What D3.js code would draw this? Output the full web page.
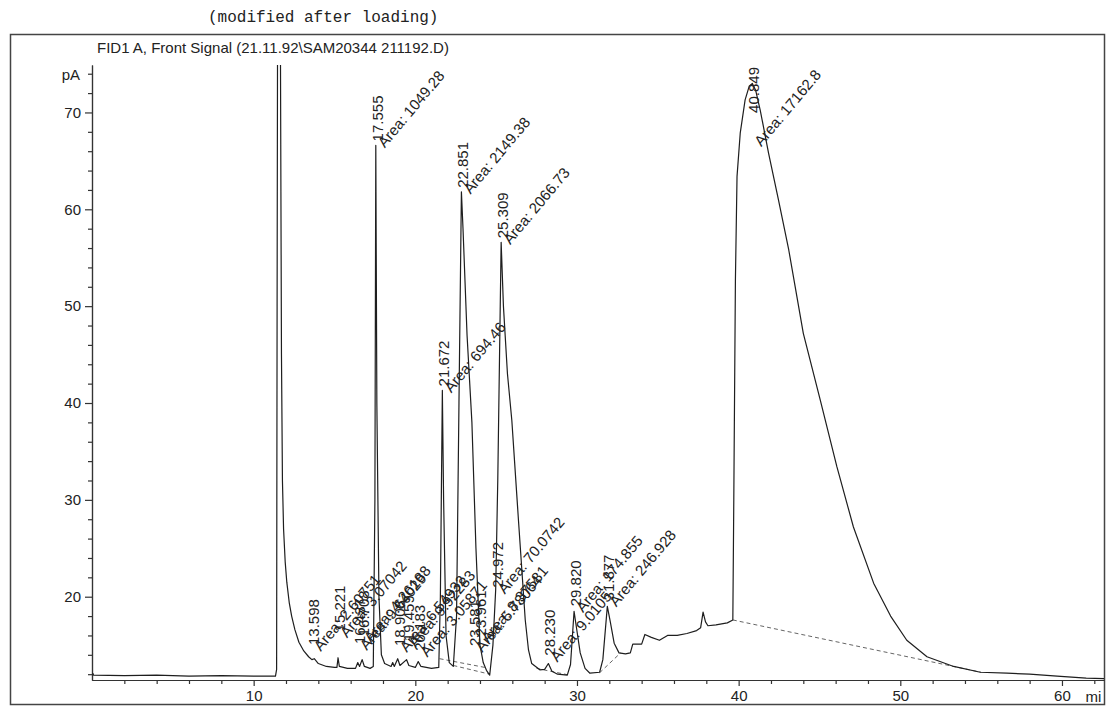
<!DOCTYPE html>
<html>
<head>
<meta charset="utf-8">
<script src="https://cdn.jsdelivr.net/npm/d3@7"></script>
<style>
  body { margin: 0; background: #fff; }
  svg text { font-family: "Liberation Sans", Arial, sans-serif; fill: #222; }
  .mono { font-family: "Liberation Mono", "Courier New", monospace; }
  .axis path, .axis line { stroke: #333; stroke-width: 1.2; }
  .axis text { font-size: 15px; fill: #222; }
</style>
</head>
<body>
<div id="js-canvas"></div>
<script>
"use strict";

// Tick labels on both axes.
const xTicks = [10, 20, 30, 40, 50, 60];
const yTicks = [20, 30, 40, 50, 60, 70];

// The detector trace: [retention time (min), signal (pA)].
const trace = [
  [0.05, 12.1], [0.1, 11.9], [2, 11.85], [4, 11.9], [6, 11.8], [8, 11.85],
  [10, 11.8], [11.35, 11.8], [11.42, 12.5], [11.45, 50], [11.48, 80],
  [11.65, 80], [11.72, 45], [11.78, 32], [11.85, 27], [11.95, 23.6],
  [12.05, 21.5], [12.2, 19.4], [12.35, 18.0], [12.55, 16.6], [12.8, 15.3],
  [13.1, 14.4], [13.4, 13.8], [13.6, 13.5], [13.75, 13.6], [14.0, 13.1],
  [14.5, 12.8], [15.0, 12.7], [15.15, 12.7], [15.22, 13.7], [15.3, 12.8],
  [15.8, 12.6], [16.3, 12.6], [16.44, 13.2], [16.55, 12.8], [16.71, 13.5],
  [16.85, 12.8], [17.2, 12.6], [17.4, 12.8], [17.5, 30], [17.555, 66.6],
  [17.62, 40], [17.75, 20], [17.9, 14], [18.1, 13.1], [18.5, 12.8],
  [18.6, 13.2], [18.7, 12.8], [18.91, 13.6], [19.05, 12.9], [19.46, 13.5],
  [19.6, 12.9], [20.0, 12.7], [20.18, 13.3], [20.35, 12.8], [21.0, 12.6],
  [21.45, 12.7], [21.55, 20], [21.672, 41.3], [21.75, 30], [21.9, 16],
  [22.1, 13.2], [22.35, 12.8], [22.55, 18], [22.7, 40], [22.851, 61.8],
  [22.95, 58], [23.2, 47], [23.5, 38], [23.75, 25], [24.0, 15], [24.2, 13.2],
  [24.4, 12.4], [24.6, 11.9], [24.8, 15], [24.97, 20.7], [25.1, 32],
  [25.309, 56.6], [25.45, 50], [25.7, 43], [25.97, 38.2], [26.38, 27.9],
  [26.8, 17.6], [27.0, 14.5], [27.2, 13.1], [27.7, 12.45], [28.0, 12.5],
  [28.23, 13.1], [28.45, 12.3], [28.8, 12.0], [29.4, 11.9], [29.6, 13],
  [29.82, 18.5], [29.95, 17], [30.2, 14.2], [30.5, 12.6], [30.8, 12.1],
  [31.4, 12.2], [31.6, 13.5], [31.877, 19.0], [32.05, 17.5], [32.3, 15.2],
  [32.6, 14.2], [33.0, 14.1], [33.3, 14.2], [33.45, 15.1], [34.0, 15.1],
  [34.2, 16.1], [34.6, 15.8], [35.1, 15.5], [35.6, 16.0], [36.2, 16.0],
  [36.8, 16.2], [37.4, 16.5], [37.65, 16.8], [37.8, 18.4], [37.95, 17.4],
  [38.1, 17.0], [38.6, 17.1], [39.3, 17.3], [39.64, 17.6], [39.7, 30],
  [39.8, 52.7], [39.9, 63.4], [40.1, 67.9], [40.4, 71.3], [40.65, 72.7],
  [40.849, 73.0], [41.05, 72.3], [41.34, 70.2], [41.85, 65.8], [42.46, 61.0],
  [43.1, 55.8], [44.0, 47.2], [45.05, 40.3], [46.08, 33.4], [47.1, 27.2],
  [48.35, 21.4], [49.4, 18.0], [50.4, 15.5], [51.65, 13.8], [53.3, 12.8],
  [54.95, 12.2], [56.6, 12.1], [58.0, 12.0], [59.7, 11.8], [61.5, 11.6],
  [62.6, 11.55]
];

// Integrated peaks: retention time, level where the label sits (pA), area.
const peakTimes = [13.598, 15.221, 16.437, 16.708, 17.555, 18.908, 19.459,
  20.183, 21.672, 22.851, 23.581, 23.961, 24.972, 25.309, 28.230, 29.820,
  31.877, 40.849];
const peakTops = [14.6, 16.0, 14.7, 15.5, 66.6, 14.5, 15.0, 14.0, 41.3, 61.8,
  14.5, 15.5, 20.5, 56.6, 13.5, 18.6, 19.2, 73.0];
const peakAreas = ["2.60751", "3.07042", "9.64029", "4.26188", "1049.28",
  "6.54932", "9.92283", "3.05871", "694.46", "2149.38", "5.78064", "8.37581",
  "70.0742", "2066.73", "9.0105", "174.855", "246.928", "17162.8"];

// Integration baselines drawn under peaks: start and end points.
const baselineStarts = [[21.5, 13.6], [22.35, 12.9], [27.5, 12.6], [31.4, 12.15], [39.64, 17.6]];
const baselineEnds = [[24.3, 12.7], [24.6, 12.0], [29.4, 11.95], [32.7, 14.2], [55.0, 12.2]];

const width = 1109;
const height = 713;

function createCanvas() {
  return d3.select("#js-canvas")
    .append("svg")
      .attr("width", width)
      .attr("height", height);
}

function drawFrame(svg) {
  svg.append("rect")
    .attr("x", 10.5).attr("y", 34.5)
    .attr("width", 1094).attr("height", 670)
    .attr("fill", "none").attr("stroke", "#444").attr("stroke-width", 1.5);
  svg.append("text")
    .attr("class", "mono")
    .attr("x", 208).attr("y", 22)
    .style("font-size", "16px")
    .text("(modified after loading)");
  svg.append("text")
    .attr("x", 97).attr("y", 53)
    .style("font-size", "15px")
    .text("FID1 A, Front Signal (21.11.92\\SAM20344 211192.D)");
}

function drawAxes(svg, x, y) {
  const xMinor = d3.range(2, 63, 2).filter(function (t) { return t % 10 !== 0; });
  const yMinor = d3.range(12, 75, 2).filter(function (v) { return v % 10 !== 0; });

  svg.append("g").attr("class", "axis")
    .attr("transform", "translate(0,680)")
    .call(d3.axisBottom(x).tickValues(xMinor).tickFormat("").tickSize(4).tickSizeOuter(0));
  svg.append("g").attr("class", "axis")
    .attr("transform", "translate(0,680)")
    .call(d3.axisBottom(x).tickValues(xTicks).tickSize(6).tickSizeOuter(0).tickPadding(4));
  svg.append("text")
    .attr("x", x(61.95)).attr("y", 702)
    .attr("text-anchor", "middle")
    .style("font-size", "15px")
    .text("mi");

  svg.append("g").attr("class", "axis")
    .attr("transform", "translate(92,0)")
    .call(d3.axisLeft(y).tickValues(yMinor).tickFormat("").tickSize(4).tickSizeOuter(0));
  svg.append("g").attr("class", "axis")
    .attr("transform", "translate(92,0)")
    .call(d3.axisLeft(y).tickValues(yTicks).tickSize(7).tickSizeOuter(0).tickPadding(4));
  svg.append("text")
    .attr("x", 80).attr("y", y(74) + 6)
    .attr("text-anchor", "end")
    .style("font-size", "15px")
    .text("pA");
}

function drawTrace(svg, x, y) {
  svg.append("clipPath").attr("id", "plot-clip")
    .append("rect")
      .attr("x", x.range()[0]).attr("y", y.range()[1])
      .attr("width", x.range()[1] - x.range()[0])
      .attr("height", y.range()[0] - y.range()[1]);

  svg.append("g")
    .selectAll("line")
    .data(d3.zip(baselineStarts, baselineEnds))
    .enter()
    .append("line")
      .attr("x1", function (d) { return x(d[0][0]); })
      .attr("y1", function (d) { return y(d[0][1]); })
      .attr("x2", function (d) { return x(d[1][0]); })
      .attr("y2", function (d) { return y(d[1][1]); })
      .attr("stroke", "#666")
      .attr("stroke-width", 1)
      .attr("stroke-dasharray", "4,3");

  const line = d3.line()
    .x(function (d) { return x(d[0]); })
    .y(function (d) { return y(d[1]); });

  svg.append("path")
    .datum(trace)
    .attr("clip-path", "url(#plot-clip)")
    .attr("fill", "none")
    .attr("stroke", "#1e1e1e")
    .attr("stroke-width", 1.2)
    .attr("stroke-linejoin", "round")
    .attr("d", line);
}

function drawPeakLabels(svg, x, y) {
  const top = y.range()[1] + 2;
  const fmt = d3.format(".3f");
  const g = svg.append("g").style("font-size", "15px");

  peakTimes.forEach(function (t, i) {
    const px = x(t);
    const rt = g.append("text").text(fmt(t));
    const len = rt.node().getComputedTextLength();
    let yb = y(peakTops[i]) - 4;
    if (yb - len < top) yb = top + len;
    rt.attr("transform", "translate(" + (px + 7) + "," + yb + ") rotate(-90)");

    const area = g.append("text").text("Area: " + peakAreas[i]);
    const alen = area.node().getComputedTextLength();
    let ya = yb + 7;
    const rise = alen * Math.sin(50 * Math.PI / 180) + 8;
    if (ya - rise < top) ya = top + rise;
    area.attr("transform", "translate(" + (px + 9) + "," + ya + ") rotate(-50)");
  });
}

const svg = createCanvas();
const x = d3.scaleLinear().domain([0, 62.6]).range([92, 1104]);
const y = d3.scaleLinear().domain([11.4, 74.9]).range([680, 65]);
drawFrame(svg);
drawAxes(svg, x, y);
drawTrace(svg, x, y);
drawPeakLabels(svg, x, y);
</script>
</body>
</html>
